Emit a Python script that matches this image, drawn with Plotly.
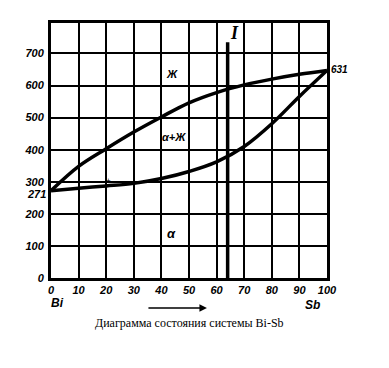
import plotly.graph_objects as go

comp = [0, 10, 20, 30, 40, 50, 60, 70, 80, 90, 100]
liquidus = [272, 348, 403, 455, 502, 546, 578, 602, 620, 635, 647]
solidus = [272, 280, 287, 295, 310, 332, 362, 410, 481, 566, 647]
x_ticks = [0, 10, 20, 30, 40, 50, 60, 70, 80, 90, 100]
y_ticks = [0, 100, 200, 300, 400, 500, 600, 700]
alloy_I = 64

tickfont = dict(family="Liberation Sans", size=11, color="black", weight="bold", style="italic")

fig = go.Figure()
for series in (liquidus, solidus):
    fig.add_trace(go.Scatter(x=comp, y=series, mode="lines",
                             line=dict(color="black", width=3.5, shape="spline", smoothing=1.0),
                             showlegend=False, hoverinfo="skip"))

fig.add_shape(type="line", x0=alloy_I, x1=alloy_I, y0=0, y1=735,
              line=dict(color="black", width=3.5))

ann = [
    dict(x=alloy_I + 2.5, y=765, text="I", font=dict(size=18, family="Liberation Serif", style="italic", weight="bold")),
    dict(x=44, y=635, text="Ж", font=dict(size=11, family="Liberation Sans", style="italic", weight="bold")),
    dict(x=44.5, y=440, text="α+Ж", font=dict(size=11, family="Liberation Sans", style="italic", weight="bold")),
    dict(x=43.5, y=140, text="α", font=dict(size=13, family="Liberation Sans", style="italic", weight="bold")),
    dict(x=21, y=305, text="+", font=dict(size=8, family="Liberation Sans")),
    dict(x=100, y=650, text="631", xanchor="left", xshift=2, font=dict(size=10, family="Liberation Sans", style="italic", weight="bold")),
    dict(x=0, y=271, text="271", xanchor="right", xshift=-3, yshift=-3, font=dict(tickfont)),
    dict(x=0, y=800, text="t°C", xanchor="right", xshift=-3, font=dict(size=12, family="Liberation Sans", style="italic", weight="bold")),
    dict(xref="paper", yref="paper", x=0.025, y=-0.098, text="Bi", font=dict(size=12, family="Liberation Sans", style="italic", weight="bold")),
    dict(xref="paper", yref="paper", x=0.946, y=-0.106, text="Sb", font=dict(size=12, family="Liberation Sans", style="italic", weight="bold")),
    dict(xref="paper", yref="paper", x=0.5, y=-0.176, text="Диаграмма состояния системы Bi-Sb",
         font=dict(size=12, family="Liberation Serif")),
]
for a in ann:
    a.setdefault("showarrow", False)
    a.setdefault("yanchor", "middle")
    a.setdefault("xanchor", "center")
    a["font"].setdefault("color", "black")
    fig.add_annotation(**a)

fig.add_annotation(xref="paper", yref="paper", x=0.565, y=-0.118, ax=-60, ay=0,
                   showarrow=True, arrowhead=2, arrowsize=1,
                   arrowwidth=1.5, arrowcolor="black", text="")

fig.update_xaxes(range=[0, 100], tickvals=x_ticks, showgrid=True, gridcolor="black", gridwidth=2,
                 showline=True, linecolor="black", linewidth=3, mirror=True, zeroline=False,
                 tickfont=tickfont, ticks="", ticklabelstandoff=0)
fig.update_yaxes(range=[0, 795], tickvals=y_ticks, showgrid=True, gridcolor="black", gridwidth=2,
                 showline=True, linecolor="black", linewidth=3, mirror=True, zeroline=False,
                 tickfont=tickfont, ticks="", ticklabelstandoff=2)

fig.update_layout(width=389, height=368, margin=dict(l=51, r=62, t=23, b=90),
                  plot_bgcolor="white", paper_bgcolor="white")
fig.write_html("out.html")
